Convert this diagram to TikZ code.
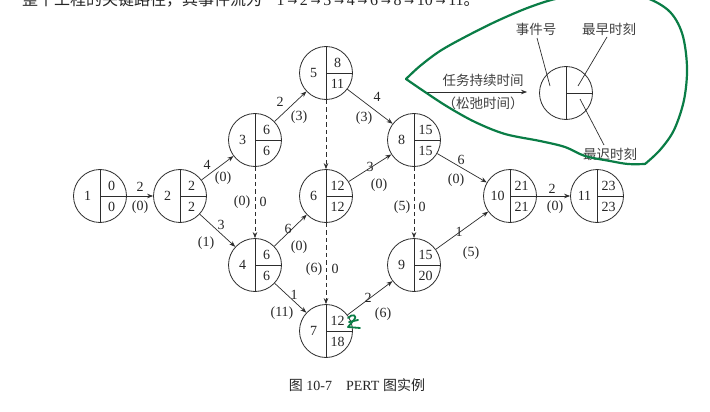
\documentclass[tikz,border=0pt]{standalone}
\usepackage{fontspec}
\setmainfont{Liberation Serif}
\newfontfamily\cjk{Noto Sans CJK SC}
\newfontfamily\symf{DejaVu Sans}
\usetikzlibrary{arrows.meta,calc}
\definecolor{linec}{RGB}{45,45,45}
\definecolor{greenc}{RGB}{10,125,70}
\tikzset{
 ev/.style={circle, draw=linec, line width=0.8pt, minimum size=53pt, inner sep=0pt},
 divl/.style={draw=linec, line width=0.8pt},
 num/.style={font=\fontsize{14}{15}\selectfont, inner sep=0pt, text=black!85},
 lab/.style={font=\fontsize{14}{15}\selectfont, inner sep=0pt, text=black!85},
 cn/.style={font=\cjk\fontsize{13.5}{15}\selectfont, inner sep=0pt, text=black!75},
 arr/.style={draw=linec, line width=0.7pt, -{Stealth[length=6pt,width=4.5pt]}},
 darr/.style={arr, dash pattern=on 4.5pt off 3pt},
 greenline/.style={draw=greenc, line width=2.2pt, line cap=round, line join=round},
}
\newcommand\evnode[5]{%
 \node[ev] (#1) at (#2) {};
 \draw[divl] (#1.north) -- (#1.south) (#1.center) -- (#1.east);
 \node[num] (#1-id) at ($(#1.center)+(-12.5,0)$) {#3};
 \node[num] (#1-e) at ($(#1.center)+(11.5,-10.5)$) {#4};
 \node[num] (#1-l) at ($(#1.center)+(11.5,10.5)$) {#5};
}
\newcommand\ra{\,{\symf\fontsize{12}{14}\selectfont →}\,}
\begin{document}
\begin{tikzpicture}[x=1pt,y=-1pt]
\fill[white] (0,0) rectangle (710,412);
\useasboundingbox (0,0) rectangle (710,412);

% top line, cut off at the upper edge as in the reference
\node[anchor=base west, inner sep=0pt, font=\fontsize{16}{18}\selectfont, text=black!85] (topline) at (22,6)
 {{\cjk 整个工程的关键路径，其事件流为}\hspace{0.9em}1\ra 2\ra 3\ra 4\ra 6\ra 8\ra 10\ra 11{\cjk 。}};

% event nodes
\evnode{n1}{100,196}{1}{0}{0}
\evnode{n2}{180,196}{2}{2}{2}
\evnode{n3}{255,140}{3}{6}{6}
\evnode{n4}{255,265}{4}{6}{6}
\evnode{n5}{326,73}{5}{8}{11}
\evnode{n6}{326,196}{6}{12}{12}
\evnode{n7}{326,331}{7}{12}{18}
\evnode{n8}{414,140}{8}{15}{15}
\evnode{n9}{414,265}{9}{15}{20}
\evnode{n10}{510,196}{10}{21}{21}
\evnode{n11}{597,196}{11}{23}{23}

% connectors
\draw[arr] (n1) -- (n2);
\draw[arr] (n2) -- (n3);
\draw[arr] (n2) -- (n4);
\draw[arr] (n3) -- (n5);
\draw[arr] (n5) -- (n8);
\draw[arr] (n4) -- (n6);
\draw[arr] (n6) -- (n8);
\draw[arr] (n4) -- (n7);
\draw[arr] (n7) -- (n9);
\draw[arr] (n8) -- (n10);
\draw[arr] (n9) -- (n10);
\draw[arr] (n10) -- (n11);
\draw[darr] (n3) -- (n4);
\draw[darr] (n5) -- (n6);
\draw[darr] (n6) -- (n7);
\draw[darr] (n8) -- (n9);

% edge labels
\node[lab] (l12a) at (140,187) {2};   \node[lab] (l12b) at (140,207) {(0)};
\node[lab] (l23a) at (207,165) {4};   \node[lab] (l23b) at (223,178) {(0)};
\node[lab] (l24a) at (221,225) {3};   \node[lab] (l24b) at (206,243) {(1)};
\node[lab] (l35a) at (280,102) {2};   \node[lab] (l35b) at (299,117) {(3)};
\node[lab] (l58a) at (377,97) {4};    \node[lab] (l58b) at (364,118) {(3)};
\node[lab] (l34a) at (242,202) {(0)}; \node[lab] (l34b) at (263,202) {0};
\node[lab] (l46a) at (288,229) {6};   \node[lab] (l46b) at (299,247) {(0)};
\node[lab] (l68a) at (370,167) {3};   \node[lab] (l68b) at (379,185) {(0)};
\node[lab] (l67a) at (314,269) {(6)}; \node[lab] (l67b) at (335,269) {0};
\node[lab] (l47a) at (294,295) {1};   \node[lab] (l47b) at (282,313) {(11)};
\node[lab] (l79a) at (368,298) {2};   \node[lab] (l79b) at (383,314) {(6)};
\node[lab] (l89a) at (402,207) {(5)}; \node[lab] (l89b) at (422,207) {0};
\node[lab] (l910a) at (459,232) {1};  \node[lab] (l910b) at (471,253) {(5)};
\node[lab] (l810a) at (461,160) {6};  \node[lab] (l810b) at (456,180) {(0)};
\node[lab] (l1011a) at (552,189) {2}; \node[lab] (l1011b) at (555,207) {(0)};

% legend
\node[ev] (leg) at (566,93) {};
\draw[divl] (leg.north) -- (leg.south) (leg.center) -- (leg.east);
\coordinate (la) at (425,92);
\coordinate (lb) at (527,92);
\draw[arr] (la) -- (lb);
\node[cn] (ldur) at (483,80) {任务持续时间};
\node[cn] (lslk) at (483,103) {（松弛时间）};
\node[cn] (lid) at (536,29) {事件号};
\node[cn] (lear) at (609,29) {最早时刻};
\node[cn] (llat) at (610,154) {最迟时刻};
\coordinate (q1a) at (537,38); \coordinate (q1b) at (550,86);
\coordinate (q2a) at (607,37); \coordinate (q2b) at (578,86);
\coordinate (q3a) at (580,99); \coordinate (q3b) at (604,145);
\draw[divl, line width=0.7pt] (q1a) -- (q1b);
\draw[divl, line width=0.7pt] (q2a) -- (q2b);
\draw[divl, line width=0.7pt] (q3a) -- (q3b);

% caption
\node[inner sep=0pt, font=\fontsize{14}{16}\selectfont, text=black!85] (cap) at (357,385)
 {{\cjk 图} 10-7\hspace{1em}PERT {\cjk 图实例}};

% green hand annotations
\draw[greenline] plot[smooth, tension=0.55] coordinates {
 (406,79) (420,66) (440,51) (465,37) (497,21) (530,7) (560,-2) (600,-6)
 (640,-4) (668,10) (682,33) (687,67) (684,100) (674,130) (660,150) (645,164)};
\draw[greenline] plot[smooth, tension=0.55] coordinates {
 (645,164) (628,164) (610,161) (585,156) (565,147) (540,141) (505,134)
 (475,122) (448,107) (425,92) (406,79)};
\draw[greenline, line width=1.8pt] (348,318) .. controls (352,313) and (359,315) .. (353,321) -- (348,327) -- (360,328);
\draw[greenline, line width=1.8pt] (349,322) -- (358,320);
\end{tikzpicture}
\end{document}
